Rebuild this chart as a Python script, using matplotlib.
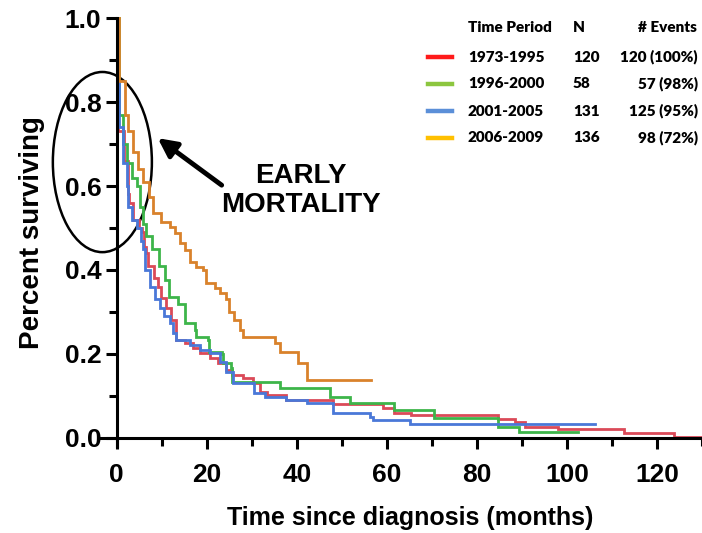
import matplotlib
matplotlib.use("Agg")
import matplotlib.pyplot as plt
from matplotlib.patches import Ellipse

# Kaplan-Meier step points (months, fraction surviving)
red_t = [0, 0.3, 1.5, 2.5, 2.8, 3.7, 4.9, 5.5, 6.0, 6.5, 7.0, 8.2, 9.2, 9.9, 11.0, 12.1, 13.2,
         15.1, 16.9, 18.4, 20.6, 22.4, 24.3, 25.7, 28.0, 30.3, 31.8, 33.3, 37.7, 48.0, 59.1,
         61.5, 65.3, 84.7, 88.4, 90.7, 98.0, 112.6, 123.7, 131.0]
red_s = [1.0, 0.73, 0.66, 0.58, 0.56, 0.52, 0.50, 0.49, 0.455, 0.44, 0.41, 0.38, 0.36, 0.333,
         0.31, 0.281, 0.233, 0.226, 0.214, 0.202, 0.19, 0.178, 0.162, 0.15, 0.143, 0.13, 0.11,
         0.102, 0.09, 0.081, 0.071, 0.06, 0.055, 0.045, 0.038, 0.027, 0.021, 0.013, 0.003, 0.003]

green_t = [0, 0.5, 1.3, 2.2, 3.3, 4.4, 5.2, 5.8, 6.5, 7.8, 9.3, 10.7, 11.5, 13.6, 15.1, 17.3,
           17.7, 20.2, 20.5, 23.3, 23.7, 25.3, 25.7, 36.2, 47.3, 51.8, 61.5, 70.5, 84.7, 89.3,
           102.4]
green_s = [1.0, 0.77, 0.70, 0.655, 0.62, 0.60, 0.55, 0.51, 0.48, 0.45, 0.41, 0.376, 0.336,
           0.32, 0.273, 0.257, 0.241, 0.233, 0.205, 0.20, 0.178, 0.167, 0.134, 0.119, 0.098,
           0.083, 0.067, 0.048, 0.027, 0.014, 0.014]

blue_t = [0, 0.1, 0.4, 1.3, 2.2, 2.6, 3.3, 4.6, 5.3, 5.8, 6.2, 7.3, 8.4, 9.6, 10.5, 11.8, 12.5,
          13.2, 16.2, 18.4, 20.6, 22.9, 24.2, 25.9, 30.4, 32.9, 37.6, 42.2, 48.0, 56.2, 57.0,
          65.1, 106.2]
blue_s = [1.0, 0.85, 0.74, 0.655, 0.60, 0.55, 0.52, 0.50, 0.47, 0.45, 0.40, 0.36, 0.33, 0.31,
          0.29, 0.273, 0.25, 0.233, 0.221, 0.21, 0.202, 0.182, 0.158, 0.13, 0.107, 0.098,
          0.09, 0.083, 0.059, 0.05, 0.043, 0.033, 0.033]

orange_t = [0, 0.5, 1.8, 2.4, 3.6, 4.7, 5.8, 7.1, 8.0, 9.9, 11.8, 12.9, 14.0, 15.1, 16.2, 17.7,
            19.2, 19.9, 21.8, 22.9, 24.2, 25.0, 26.0, 27.3, 28.0, 35.1, 36.2, 40.3, 42.3, 56.5]
orange_s = [1.0, 0.85, 0.77, 0.73, 0.68, 0.64, 0.61, 0.575, 0.535, 0.515, 0.503, 0.488, 0.464,
            0.448, 0.42, 0.408, 0.40, 0.369, 0.357, 0.345, 0.33, 0.30, 0.28, 0.257, 0.241,
            0.225, 0.205, 0.178, 0.138, 0.138]

periods = ["1973-1995", "1996-2000", "2001-2005", "2006-2009"]
n_patients = ["120", "58", "131", "136"]
n_events = ["120 (100%)", "57 (98%)", "125 (95%)", "98 (72%)"]
legend_colors = ["#FF1A1A", "#8CC63F", "#5B8FD8", "#FFC000"]

curves = [
    (red_t, red_s, "#DB4A58"),
    (green_t, green_s, "#3DB54A"),
    (blue_t, blue_s, "#4A78D8"),
    (orange_t, orange_s, "#D9822B"),
]

fig = plt.figure(figsize=(7.02, 5.33), dpi=100)
ax = fig.add_axes([0.1439, 0.1625, 0.8561, 0.8037])

for t, s, color in curves:
    ax.step(t, s, where="post", color=color, lw=2.0, solid_joinstyle="miter", clip_on=False)

ax.set_xlim(-3.5, 130)
ax.set_ylim(-0.02, 1.0)
ax.spines["left"].set_position(("data", 0))
ax.spines["bottom"].set_position(("data", 0))
ax.spines["top"].set_visible(False)
ax.spines["right"].set_visible(False)
for side in ["left", "bottom"]:
    ax.spines[side].set_linewidth(2.2)

ax.set_xticks(range(0, 121, 20))
ax.set_xticks(range(10, 131, 20), minor=True)
ax.set_yticks([0.0, 0.2, 0.4, 0.6, 0.8, 1.0])
ax.set_yticks([0.1, 0.3, 0.5, 0.7, 0.9], minor=True)
ax.set_yticklabels(["0.0", "0.2", "0.4", "0.6", "0.8", "1.0"])
ax.tick_params(which="major", direction="out", length=8, width=2.2)
ax.tick_params(which="minor", direction="out", length=6, width=2.2)
ax.tick_params(axis="x", which="major", pad=10)
ax.tick_params(axis="y", which="major", pad=3)
for lab in ax.get_xticklabels() + ax.get_yticklabels():
    lab.set_family("Liberation Sans")
    lab.set_fontweight("bold")
    lab.set_fontsize(19)

ax.set_xlabel("Time since diagnosis (months)", family="Liberation Sans",
              fontweight="bold", fontsize=18, labelpad=12)
ax.set_ylabel("Percent surviving", family="Liberation Sans",
              fontweight="bold", fontsize=20, labelpad=14)
ax.xaxis.set_label_coords((410 - 101) / 601, -0.14)

# early mortality callout
ax.add_patch(Ellipse((-3.2, 0.657), 22, 0.429, fill=False, ec="black", lw=1.8, clip_on=False))
ax.annotate("", xy=(9.1, 0.714), xytext=(23.3, 0.602),
            arrowprops=dict(arrowstyle="-|>", color="black", lw=3.5, mutation_scale=28,
                            shrinkA=0, shrinkB=0))
ax.text(40.8, 0.59, "EARLY\nMORTALITY", ha="center", va="center", family="Liberation Sans",
        fontweight="bold", fontsize=20, linespacing=1.15)

# table-style legend
lg = dict(family=["Lato", "DejaVu Sans"], fontweight="heavy", fontsize=11,
          transform=fig.transFigure, va="center")
W, H = 702.0, 533.0
fig.text(468 / W, 1 - 27 / H, "Time Period", ha="left", **lg)
fig.text(573 / W, 1 - 27 / H, "N", ha="left", **lg)
fig.text(697 / W, 1 - 27 / H, "# Events", ha="right", **lg)
rows_y = [57, 84, 111, 138]
for i, period in enumerate(periods):
    yy = 1 - rows_y[i] / H
    fig.add_artist(plt.Line2D([428 / W, 452 / W], [yy, yy], color=legend_colors[i], lw=3.2,
                              transform=fig.transFigure))
    fig.text(468 / W, yy, period, ha="left", **lg)
    fig.text(573 / W, yy, n_patients[i], ha="left", **lg)
    fig.text(698 / W, yy, n_events[i], ha="right", **lg)

fig.savefig("out.png", dpi=100)
